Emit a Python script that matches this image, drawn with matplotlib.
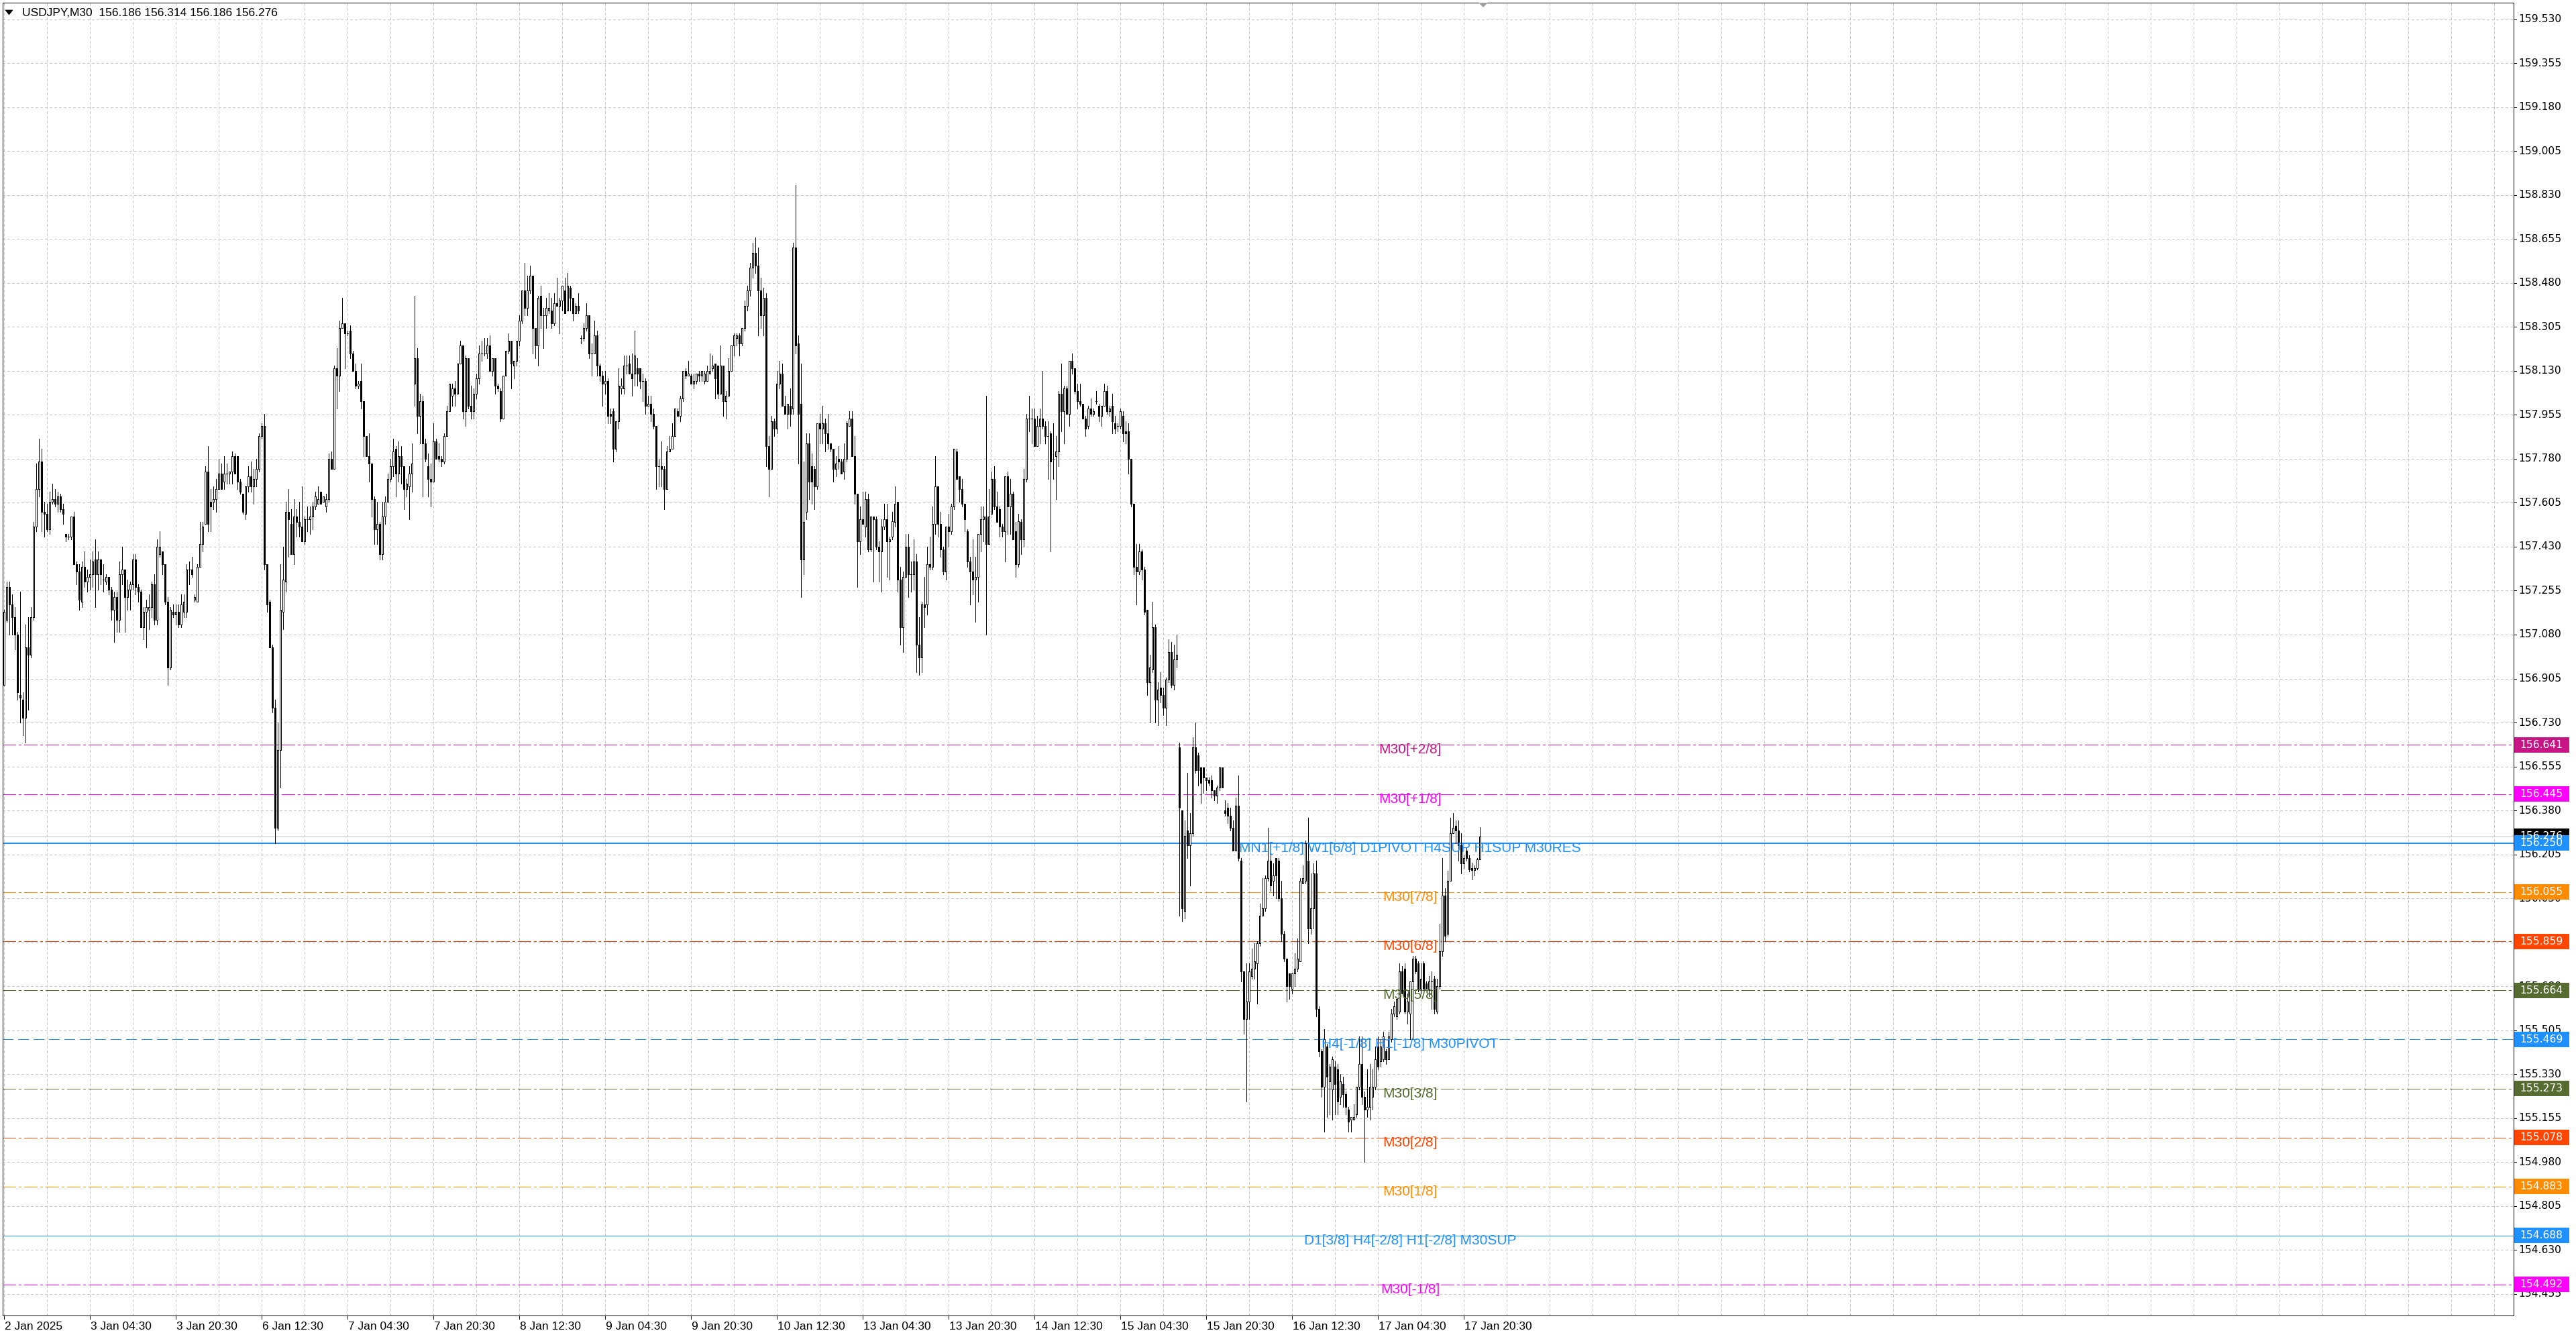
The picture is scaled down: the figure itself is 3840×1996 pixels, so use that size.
import matplotlib
matplotlib.use("Agg")
import matplotlib.pyplot as plt
import numpy as np
from matplotlib.patches import Rectangle, Polygon
from matplotlib import transforms

# ---------------- DATA ----------------
symbol_title = "USDJPY,M30  156.186 156.314 156.186 156.276"

opens = [
156.88,157.14,157.27,157.20,157.15,157.08,156.84,156.82,156.75,157.03,
157.00,157.15,157.51,157.66,157.77,157.57,157.56,157.50,157.61,157.62,
157.60,157.63,157.58,157.48,157.47,157.47,157.55,157.36,157.33,157.21,
157.35,157.29,157.31,157.32,157.38,157.32,157.38,157.30,157.29,157.31,
157.26,157.18,157.23,157.14,157.32,157.34,157.23,157.26,157.28,157.38,
157.27,157.25,157.11,157.17,157.18,157.19,157.28,157.14,157.40,157.41,
157.36,157.21,156.95,157.17,157.16,157.17,157.12,157.17,157.17,157.34,
157.34,157.22,157.21,157.35,157.44,157.52,157.73,157.61,157.61,157.62,
157.66,157.72,157.69,157.72,157.72,157.73,157.79,157.79,157.69,157.64,
157.56,157.67,157.71,157.67,157.70,157.74,157.87,157.91,157.36,157.21,
157.03,156.79,156.31,156.62,157.17,157.29,157.57,157.52,157.40,157.55,
157.53,157.51,157.45,157.54,157.54,157.55,157.59,157.60,157.65,157.61,
157.59,157.62,157.78,157.74,158.14,158.11,158.30,158.32,158.28,158.29,
158.20,158.13,158.07,158.09,158.01,157.87,157.79,157.76,157.62,157.50,
157.52,157.40,157.55,157.61,157.70,157.75,157.82,157.72,157.79,157.75,
157.66,157.67,157.72,158.08,158.18,157.95,158.01,157.84,157.75,157.70,
157.69,157.85,157.79,157.78,157.77,157.87,157.97,158.03,158.06,158.04,
158.16,158.23,157.97,158.18,157.99,157.97,158.04,158.10,158.20,158.20,
158.20,158.23,158.13,158.18,158.07,158.05,157.94,158.11,158.21,158.25,
158.15,158.17,158.25,158.33,158.45,158.38,158.45,158.51,158.30,158.23,
158.43,158.35,158.35,158.37,158.37,158.32,158.40,158.39,158.41,158.45,
158.37,158.46,158.42,158.36,158.39,158.26,158.26,158.30,158.35,158.20,
158.20,158.27,158.15,158.11,158.08,158.09,157.96,157.97,157.82,157.93,
158.06,158.06,158.15,158.16,158.12,158.12,158.14,158.14,158.09,158.09,
157.99,158.00,157.96,157.91,157.75,157.75,157.74,157.66,157.81,157.82,
157.87,157.97,157.95,158.02,158.13,158.11,158.11,158.08,158.09,158.12,
158.11,158.09,158.09,158.12,158.14,158.16,158.15,158.04,158.15,158.01,
158.03,158.13,158.23,158.26,158.27,158.24,158.30,158.39,158.45,158.54,
158.60,158.55,158.45,158.35,158.42,157.83,157.74,157.93,157.90,158.08,
158.12,157.99,157.96,157.99,157.98,158.62,158.24,158.00,157.38,157.57,
157.84,157.75,157.74,157.67,157.92,157.90,157.92,157.88,157.84,157.82,
157.74,157.78,157.77,157.73,157.78,157.91,157.94,157.79,157.64,157.45,
157.54,157.51,157.62,157.42,157.55,157.54,157.43,157.41,157.51,157.54,
157.45,157.47,157.53,157.61,157.30,157.11,157.31,157.43,157.32,157.32,
157.37,157.04,156.99,157.20,157.20,157.36,157.35,157.52,157.67,157.52,
157.42,157.33,157.51,157.49,157.59,157.81,157.71,157.66,157.60,157.49,
157.37,157.33,157.30,157.31,157.48,157.54,157.55,157.44,157.56,157.70,
157.59,157.58,157.51,157.49,157.71,157.59,157.64,157.49,157.36,157.53,
157.46,157.70,157.94,157.94,157.94,157.83,157.91,157.94,157.91,157.87,
157.88,157.78,157.79,157.81,158.04,157.97,158.06,157.96,158.17,158.14,
158.05,158.01,158.00,157.94,157.91,157.98,157.96,158.01,157.99,157.95,
157.99,158.05,157.97,157.99,157.92,157.91,157.91,157.95,157.89,157.89,
157.78,157.60,157.35,157.33,157.41,157.34,157.18,156.89,156.94,157.11,
156.82,156.87,156.84,156.79,156.90,157.01,156.88,156.98,156.63,156.38,
155.98,156.30,156.24,156.29,156.63,156.60,156.55,156.55,156.51,156.50,
156.50,156.46,156.44,156.47,156.55,156.38,156.39,156.36,156.31,156.22,
156.40,156.18,155.74,155.55,155.62,155.72,155.75,155.77,155.85,155.96,
155.99,156.11,156.18,156.10,156.19,156.18,156.03,155.89,155.79,155.73,
155.67,155.73,155.75,155.78,156.09,156.10,156.18,155.91,155.99,156.13,
155.59,155.42,155.28,155.44,155.30,155.27,155.36,155.35,155.24,155.29,
155.25,155.19,155.15,155.15,155.17,155.28,155.37,155.24,155.19,155.20,
155.24,155.28,155.44,155.38,155.39,155.42,155.39,155.47,155.57,155.56,
155.58,155.74,155.75,155.58,155.57,155.70,155.79,155.77,155.67,155.77,
155.69,155.67,155.70,155.71,155.58,155.68,155.82,156.04,155.89,156.10,
156.29,156.32,156.30,156.24,156.17,156.22,156.19,156.151,156.142,156.151,
156.186]

highs = [
157.18,157.29,157.29,157.24,157.19,157.09,157.25,156.85,157.12,157.15,
157.19,157.53,157.76,157.86,157.82,157.61,157.60,157.65,157.68,157.66,
157.65,157.64,157.60,157.48,157.48,157.55,157.57,157.37,157.36,157.37,
157.41,157.34,157.38,157.41,157.46,157.41,157.38,157.36,157.32,157.31,
157.27,157.25,157.25,157.37,157.43,157.34,157.30,157.29,157.40,157.40,
157.28,157.26,157.19,157.22,157.24,157.29,157.32,157.46,157.49,157.41,
157.36,157.23,157.19,157.20,157.20,157.20,157.24,157.24,157.36,157.37,
157.39,157.24,157.36,157.53,157.53,157.75,157.83,157.66,157.67,157.70,
157.78,157.76,157.79,157.76,157.73,157.81,157.80,157.79,157.70,157.64,
157.67,157.75,157.77,157.74,157.78,157.88,157.92,157.96,157.36,157.22,
157.04,156.82,156.73,157.36,157.43,157.61,157.66,157.58,157.62,157.58,
157.61,157.67,157.55,157.59,157.59,157.61,157.65,157.67,157.65,157.63,
157.64,157.80,157.81,158.15,158.22,158.33,158.42,158.32,158.29,158.31,
158.21,158.16,158.09,158.16,158.01,157.87,157.88,157.76,157.63,157.61,
157.53,157.61,157.63,157.72,157.78,157.86,157.83,157.85,157.83,157.75,
157.70,157.75,157.84,158.43,158.22,158.04,158.03,157.86,157.80,157.76,
157.92,157.86,157.84,157.79,157.88,157.99,158.08,158.08,158.09,158.16,
158.25,158.23,158.19,158.18,158.07,158.06,158.12,158.23,158.25,158.26,
158.26,158.27,158.18,158.18,158.08,158.06,158.11,158.21,158.28,158.25,
158.17,158.25,158.35,158.45,158.56,158.51,158.55,158.51,158.30,158.43,
158.47,158.38,158.42,158.44,158.42,158.44,158.50,158.42,158.47,158.50,
158.52,158.47,158.42,158.40,158.44,158.27,158.32,158.40,158.35,158.24,
158.33,158.29,158.16,158.13,158.13,158.10,157.98,157.98,157.93,158.14,
158.10,158.19,158.19,158.19,158.20,158.29,158.18,158.14,158.12,158.10,
158.03,158.03,157.98,157.91,157.78,157.85,157.75,157.83,157.87,157.92,
157.98,157.98,158.03,158.13,158.14,158.17,158.12,158.12,158.12,158.13,
158.13,158.13,158.15,158.20,158.19,158.16,158.15,158.23,158.15,158.05,
158.18,158.23,158.28,158.28,158.28,158.30,158.41,158.47,158.56,158.64,
158.66,158.62,158.50,158.46,158.44,157.87,157.95,157.94,158.13,158.17,
158.16,158.03,158.00,158.06,158.64,158.87,158.27,158.16,157.77,157.88,
157.88,157.80,157.75,157.92,157.96,157.99,157.94,157.96,157.84,157.82,
157.79,157.83,157.78,157.84,157.93,157.97,157.97,157.87,157.64,157.59,
157.65,157.65,157.64,157.55,157.55,157.55,157.45,157.54,157.60,157.60,
157.47,157.57,157.67,157.61,157.35,157.33,157.48,157.48,157.37,157.46,
157.40,157.15,157.21,157.31,157.43,157.47,157.59,157.79,157.67,157.57,
157.43,157.51,157.56,157.60,157.82,157.82,157.71,157.70,157.60,157.50,
157.39,157.46,157.39,157.48,157.59,157.59,158.03,157.66,157.73,157.75,
157.65,157.59,157.52,157.71,157.73,157.70,157.65,157.53,157.56,157.54,
157.74,157.96,158.03,157.98,157.98,157.95,157.98,158.13,157.93,157.93,
157.89,157.92,157.87,158.05,158.16,158.07,158.07,158.17,158.20,158.14,
158.08,158.08,158.00,157.95,157.99,158.02,157.98,158.05,158.00,157.99,
158.08,158.07,157.99,158.04,157.95,157.92,157.98,157.97,157.93,157.92,
157.78,157.60,157.44,157.44,157.42,157.35,157.18,157.00,157.21,157.12,
156.89,156.93,156.87,156.91,157.06,157.05,157.04,157.08,156.65,156.38,
156.34,156.53,156.37,156.67,156.73,156.61,156.55,156.55,156.51,156.51,
156.52,156.46,156.48,156.55,156.55,156.42,156.41,156.39,156.34,156.43,
156.52,156.19,155.74,155.77,155.77,155.83,155.85,155.86,156.01,156.11,
156.12,156.31,156.21,156.17,156.19,156.19,156.10,155.90,155.79,155.73,
155.73,155.81,155.87,156.11,156.16,156.26,156.35,156.13,156.17,156.18,
155.60,155.43,155.51,155.45,155.37,155.40,155.38,155.37,155.33,155.32,
155.26,155.20,155.16,155.21,155.28,155.48,155.48,155.26,155.35,155.37,
155.35,155.44,155.48,155.47,155.50,155.43,155.50,155.59,155.62,155.63,
155.77,155.76,155.77,155.65,155.70,155.80,155.80,155.78,155.77,155.78,
155.70,155.72,155.74,155.72,155.71,155.93,156.19,156.07,156.14,156.35,
156.37,156.34,156.34,156.29,156.20,156.23,156.20,156.173,156.16,156.19,
156.314]

lows = [
156.88,157.13,157.08,157.08,157.02,156.82,156.73,156.68,156.65,156.78,
156.99,157.14,157.49,157.63,157.49,157.47,157.49,157.48,157.60,157.59,
157.57,157.57,157.52,157.45,157.46,157.46,157.36,157.28,157.18,157.19,
157.27,157.25,157.26,157.27,157.19,157.26,157.28,157.25,157.28,157.24,
157.14,157.05,157.09,157.09,157.28,157.09,157.18,157.18,157.26,157.24,
157.21,157.11,157.06,157.03,157.10,157.15,157.12,157.12,157.39,157.32,
157.20,156.88,156.94,157.15,157.12,157.11,157.11,157.15,157.15,157.28,
157.31,157.21,157.21,157.35,157.41,157.52,157.49,157.49,157.58,157.57,
157.66,157.66,157.66,157.68,157.68,157.68,157.72,157.66,157.64,157.56,
157.54,157.65,157.65,157.60,157.67,157.73,157.86,157.34,157.17,157.03,
156.77,156.25,156.30,156.47,157.10,157.25,157.39,157.40,157.36,157.47,
157.47,157.47,157.44,157.49,157.48,157.50,157.58,157.60,157.60,157.61,
157.57,157.61,157.74,157.74,157.98,158.05,158.30,158.14,158.27,158.18,
158.13,158.06,158.06,157.98,157.79,157.79,157.69,157.55,157.44,157.44,
157.38,157.38,157.52,157.61,157.69,157.71,157.63,157.69,157.68,157.58,
157.63,157.54,157.65,157.99,157.88,157.84,157.63,157.77,157.63,157.59,
157.69,157.78,157.77,157.75,157.76,157.87,157.97,157.99,157.99,158.04,
158.16,157.94,157.91,157.98,157.94,157.94,158.02,158.08,158.17,158.19,
158.18,158.13,158.11,158.04,158.05,157.93,157.94,158.11,158.20,158.06,
158.10,158.15,158.23,158.32,158.35,158.35,158.44,158.20,158.18,158.15,
158.30,158.22,158.30,158.36,158.30,158.31,158.39,158.28,158.37,158.36,
158.37,158.37,158.33,158.36,158.36,158.24,158.25,158.29,158.18,158.11,
158.20,158.11,158.09,157.99,158.04,157.92,157.92,157.77,157.81,157.90,
158.04,158.04,158.12,158.12,158.03,158.07,158.07,158.06,158.01,157.96,
157.99,157.93,157.90,157.66,157.67,157.67,157.58,157.66,157.81,157.82,
157.87,157.95,157.93,158.01,158.10,158.11,158.08,158.06,158.08,158.09,
158.09,158.08,158.09,158.12,158.13,158.02,158.02,158.04,157.95,157.94,
158.03,158.13,158.19,158.23,158.19,158.23,158.29,158.37,158.43,158.50,
158.52,158.27,158.30,158.27,157.75,157.63,157.74,157.87,157.88,158.06,
157.99,157.96,157.90,157.91,157.96,158.20,157.76,157.23,157.32,157.54,
157.62,157.60,157.58,157.66,157.84,157.84,157.81,157.82,157.81,157.69,
157.71,157.74,157.72,157.70,157.77,157.91,157.79,157.60,157.27,157.40,
157.52,157.47,157.41,157.41,157.29,157.42,157.29,157.25,157.50,157.31,
157.30,157.46,157.51,157.25,157.04,157.01,157.31,157.23,157.25,157.26,
156.93,156.92,156.93,157.11,157.16,157.34,157.34,157.48,157.47,157.39,
157.32,157.30,157.43,157.48,157.58,157.70,157.61,157.59,157.49,157.35,
157.20,157.24,157.13,157.21,157.41,157.45,157.08,157.44,157.56,157.58,
157.53,157.47,157.47,157.37,157.48,157.48,157.46,157.31,157.35,157.40,
157.43,157.69,157.89,157.84,157.83,157.83,157.84,157.90,157.84,157.70,
157.41,157.70,157.62,157.75,157.89,157.84,157.96,157.91,158.12,158.04,
157.98,157.99,157.94,157.87,157.90,157.95,157.95,158.00,157.93,157.91,
157.99,157.96,157.95,157.88,157.88,157.89,157.90,157.85,157.84,157.72,
157.59,157.32,157.20,157.32,157.30,157.16,156.84,156.73,156.93,156.73,
156.72,156.81,156.76,156.72,156.89,156.87,156.86,156.95,155.96,155.94,
155.95,156.19,156.08,156.28,156.53,156.48,156.41,156.45,156.46,156.48,
156.43,156.42,156.41,156.46,156.47,156.36,156.33,156.30,156.22,156.22,
156.18,155.70,155.49,155.22,155.55,155.71,155.71,155.61,155.84,155.96,
155.98,156.10,156.06,156.04,156.03,156.02,155.86,155.78,155.62,155.63,
155.65,155.68,155.74,155.78,156.09,156.09,155.85,155.89,155.91,155.56,
155.40,155.24,155.10,155.16,155.17,155.15,155.17,155.17,155.21,155.20,
155.17,155.10,155.10,155.15,155.16,155.27,155.21,154.98,155.16,155.15,
155.19,155.27,155.35,155.36,155.38,155.37,155.39,155.46,155.56,155.55,
155.57,155.65,155.57,155.53,155.47,155.47,155.73,155.66,155.65,155.67,
155.67,155.64,155.59,155.57,155.57,155.67,155.80,155.86,155.88,156.10,
156.29,156.25,156.18,156.13,156.15,156.18,156.137,156.106,156.12,156.146,
156.186]

closes = [
157.17,157.27,157.20,157.15,157.08,156.85,156.83,156.75,157.03,157.00,
157.15,157.51,157.66,157.77,157.57,157.56,157.50,157.61,157.62,157.60,
157.63,157.58,157.56,157.47,157.47,157.55,157.36,157.33,157.22,157.35,
157.29,157.31,157.32,157.37,157.32,157.38,157.32,157.30,157.31,157.26,
157.18,157.23,157.14,157.32,157.34,157.23,157.26,157.28,157.38,157.27,
157.25,157.11,157.17,157.19,157.19,157.28,157.14,157.43,157.43,157.36,
157.21,156.95,157.18,157.16,157.17,157.12,157.20,157.21,157.34,157.34,
157.32,157.23,157.35,157.44,157.51,157.73,157.52,157.59,157.62,157.66,
157.72,157.66,157.72,157.72,157.73,157.79,157.72,157.69,157.65,157.57,
157.67,157.71,157.67,157.70,157.74,157.87,157.91,157.36,157.20,157.03,
156.79,156.31,156.62,157.18,157.30,157.57,157.54,157.40,157.55,157.53,
157.51,157.45,157.54,157.54,157.55,157.59,157.63,157.62,157.60,157.63,
157.62,157.78,157.74,158.14,158.11,158.30,158.32,158.28,158.28,158.20,
158.13,158.07,158.08,158.01,157.87,157.79,157.76,157.62,157.50,157.52,
157.40,157.55,157.61,157.70,157.75,157.81,157.72,157.79,157.75,157.66,
157.68,157.72,157.76,158.18,157.95,158.01,157.84,157.78,157.70,157.69,
157.85,157.78,157.78,157.77,157.87,157.97,158.08,158.06,158.04,158.16,
158.23,157.97,158.18,157.99,157.97,158.04,158.10,158.20,158.20,158.20,
158.23,158.13,158.18,158.07,158.06,157.94,158.11,158.21,158.25,158.16,
158.17,158.25,158.33,158.45,158.38,158.45,158.51,158.30,158.23,158.42,
158.35,158.35,158.38,158.38,158.32,158.40,158.39,158.41,158.47,158.36,
158.47,158.42,158.36,158.39,158.37,158.26,158.30,158.35,158.20,158.20,
158.27,158.15,158.11,158.08,158.09,157.95,157.95,157.82,157.93,158.07,
158.07,158.15,158.15,158.12,158.10,158.19,158.12,158.09,158.09,157.99,
158.00,157.96,157.91,157.75,157.75,157.74,157.66,157.81,157.82,157.87,
157.98,157.95,158.02,158.13,158.11,158.12,158.08,158.09,158.12,158.11,
158.13,158.12,158.13,158.13,158.15,158.10,158.04,158.15,158.01,158.03,
158.13,158.23,158.27,158.27,158.24,158.30,158.39,158.45,158.54,158.60,
158.55,158.45,158.35,158.42,157.83,157.74,157.93,157.90,158.08,158.12,
157.99,157.96,158.00,157.96,158.62,158.23,157.96,157.38,157.53,157.84,
157.69,157.69,157.67,157.92,157.90,157.92,157.88,157.84,157.82,157.74,
157.76,157.77,157.72,157.78,157.92,157.94,157.79,157.64,157.45,157.54,
157.52,157.62,157.42,157.55,157.54,157.43,157.41,157.51,157.54,157.45,
157.46,157.53,157.60,157.30,157.11,157.31,157.43,157.32,157.32,157.37,
157.04,156.99,157.20,157.19,157.36,157.35,157.52,157.67,157.52,157.42,
157.33,157.51,157.49,157.59,157.82,157.70,157.66,157.60,157.54,157.37,
157.33,157.30,157.31,157.48,157.54,157.55,157.44,157.55,157.70,157.59,
157.53,157.51,157.49,157.71,157.59,157.64,157.46,157.36,157.53,157.46,
157.70,157.94,157.94,157.94,157.83,157.91,157.94,157.91,157.87,157.87,
157.77,157.78,157.81,158.04,157.97,158.06,157.96,158.17,158.14,158.05,
158.01,158.00,157.94,157.90,157.98,157.96,157.97,158.01,157.95,157.99,
158.05,157.97,157.98,157.93,157.90,157.91,157.97,157.88,157.88,157.78,
157.60,157.35,157.33,157.41,157.34,157.17,156.89,156.95,157.11,156.82,
156.86,156.84,156.79,156.90,157.01,156.88,156.98,157.00,156.39,155.99,
156.28,156.24,156.29,156.63,156.54,156.54,156.49,156.51,156.50,156.49,
156.46,156.44,156.47,156.55,156.47,156.37,156.36,156.31,156.22,156.40,
156.19,155.74,155.55,155.62,155.74,155.75,155.78,155.85,155.96,155.99,
156.11,156.18,156.08,156.12,156.12,156.03,155.89,155.79,155.68,155.68,
155.73,155.75,155.79,156.10,156.11,156.25,155.91,155.99,156.13,155.59,
155.42,155.28,155.47,155.32,155.36,155.39,155.29,155.22,155.30,155.25,
155.20,155.14,155.16,155.16,155.28,155.37,155.24,155.19,155.20,155.28,
155.28,155.39,155.36,155.44,155.48,155.39,155.48,155.57,155.60,155.63,
155.74,155.65,155.58,155.62,155.70,155.79,155.74,155.67,155.71,155.67,
155.67,155.70,155.70,155.59,155.68,155.82,156.04,155.88,156.10,156.29,
156.31,156.30,156.24,156.17,156.19,156.19,156.146,156.142,156.151,156.184,
156.276]

x_tick_labels = ["2 Jan 2025", "3 Jan 04:30", "3 Jan 20:30", "6 Jan 12:30",
                 "7 Jan 04:30", "7 Jan 20:30", "8 Jan 12:30", "9 Jan 04:30",
                 "9 Jan 20:30", "10 Jan 12:30", "13 Jan 04:30", "13 Jan 20:30",
                 "14 Jan 12:30", "15 Jan 04:30", "15 Jan 20:30", "16 Jan 12:30",
                 "17 Jan 04:30", "17 Jan 20:30"]
bars_per_label = 32

y_tick_labels = ["159.530", "159.355", "159.180", "159.005", "158.830", "158.655",
                 "158.480", "158.305", "158.130", "157.955", "157.780", "157.605",
                 "157.430", "157.255", "157.080", "156.905", "156.730", "156.555",
                 "156.380", "156.205", "156.030", "155.855", "155.680", "155.505",
                 "155.330", "155.155", "154.980", "154.805", "154.630", "154.455"]

level_prices = [156.641, 156.445, 156.250, 156.055, 155.859, 155.664,
                155.469, 155.273, 155.078, 154.883, 154.688, 154.492]
level_texts = ["M30[+2/8]", "M30[+1/8]",
               "MN1[+1/8] W1[6/8] D1PIVOT H4SUP H1SUP M30RES",
               "M30[7/8]", "M30[6/8]", "M30[5/8]",
               "H4[-1/8] H1[-1/8] M30PIVOT",
               "M30[3/8]", "M30[2/8]", "M30[1/8]",
               "D1[3/8] H4[-2/8] H1[-2/8] M30SUP", "M30[-1/8]"]
level_colors = ["#C71585", "#FF00FF", "#1E90FF", "#FF8C00", "#FF4500", "#556B2F",
                "#1E90FF", "#556B2F", "#FF4500", "#FF8C00", "#1E90FF", "#FF00FF"]
level_styles = ["dashdot", "dashdot", "solid2", "dashdot", "dashdot", "dashdot",
                "dashed", "dashdot", "dashdot", "dashdot", "solid", "dashdot"]
current_price = 156.276

# ---------------- FIGURE ----------------
W, H = 3840, 1996
DPI = 100
PX = 72.0 / DPI
fig = plt.figure(figsize=(W / DPI, H / DPI), dpi=DPI)
fig.patch.set_facecolor("white")

ax_l, ax_r, ax_t, ax_b = 4, 3747, 4, 1961
ax = fig.add_axes([ax_l / W, 1 - ax_b / H, (ax_r - ax_l) / W, (ax_b - ax_t) / H])
ax.set_facecolor("white")
bar_px = 4.0
xmin = -0.5
xmax = xmin + (ax_r - ax_l) / bar_px
px_per_price = 374.4
ytop = 159.530 + (28.7 - ax_t) / px_per_price
ybot = ytop - (ax_b - ax_t) / px_per_price
ax.set_xlim(xmin, xmax)
ax.set_ylim(ybot, ytop)
ax.set_xticks([])
ax.set_yticks([])
for s in ax.spines.values():
    s.set_color("black")
    s.set_linewidth(PX)

# grid
y_vals = [float(t) for t in y_tick_labels]
grid_kw = dict(color="#C8C8C8", lw=PX, linestyle=(0, (3, 3)), zorder=1, antialiased=False)
ax.hlines(y_vals, xmin, xmax, **grid_kw)
vgrid = np.arange(0, xmax, 16)
ax.vlines(vgrid, ybot, ytop, **grid_kw)

# level lines
for p, c, st in zip(level_prices, level_colors, level_styles):
    if st == "dashdot":
        ax.axhline(p, color=c, lw=PX, linestyle=(0, (20, 5, 3, 5)), zorder=2, antialiased=False)
    elif st == "dashed":
        ax.axhline(p, color=c, lw=PX, linestyle=(0, (16, 7)), zorder=2, antialiased=False)
    elif st == "solid2":
        ax.axhline(p, color=c, lw=2 * PX, zorder=2, antialiased=False)
    else:
        ax.axhline(p, color=c, lw=PX, zorder=2, antialiased=False)
ax.axhline(current_price, color="#C0C0C0", lw=PX, zorder=1.5, antialiased=False)

# candles
n = min(len(opens), len(highs), len(lows), len(closes))
O = np.array(opens[:n]); Hh = np.array(highs[:n]); L = np.array(lows[:n]); C = np.array(closes[:n])
x = np.arange(n)
lo = np.minimum(L, np.minimum(O, C))
hi = np.maximum(Hh, np.maximum(O, C))
ax.vlines(x, lo, hi, colors="black", lw=PX, zorder=3, antialiased=False)
up = C >= O
blo = np.minimum(O, C)
bh = np.abs(C - O)
ax.bar(x[up], bh[up], bottom=blo[up], width=0.5, facecolor="white",
       edgecolor="black", linewidth=PX, zorder=4, antialiased=False)
ax.bar(x[~up], bh[~up], bottom=blo[~up], width=0.5, facecolor="black",
       edgecolor="black", linewidth=PX, zorder=4, antialiased=False)

# level text labels
label_x = (2102 - ax_l) / bar_px + xmin
for p, t, c in zip(level_prices, level_texts, level_colors):
    ax.annotate(t, xy=(label_x, p), xytext=(0, -5.4), textcoords="offset points",
                ha="center", va="center", color=c, fontsize=15,
                family="Liberation Sans", zorder=6)

# right price axis
tr = transforms.blended_transform_factory(fig.transFigure, ax.transData)
for v, s in zip(y_vals, y_tick_labels):
    ax.add_line(plt.Line2D([ax_r / W, (ax_r + 4) / W], [v, v], transform=tr,
                           color="black", lw=PX, clip_on=False))
    fig.text(3754 / W, v, s, transform=tr, ha="left", va="center",
             fontsize=11.2, family="DejaVu Sans", color="black")

box_prices = [current_price] + level_prices
box_colors = ["black"] + level_colors
box_h = 23 / px_per_price
for p, c in zip(box_prices, box_colors):
    rect = Rectangle((3748 / W, p - box_h / 2), 82 / W, box_h, transform=tr,
                     facecolor=c, edgecolor="none", clip_on=False, zorder=10)
    fig.add_artist(rect)
    fig.text(3756 / W, p, "%.3f" % p, transform=tr, ha="left", va="center",
             fontsize=11.2, family="DejaVu Sans", color="white", zorder=11)

# bottom time axis
for i, lab in enumerate(x_tick_labels):
    b = i * bars_per_label
    px = ax_l + (b - xmin) * bar_px
    fig.add_artist(plt.Line2D([px / W, px / W], [1 - ax_b / H, 1 - (ax_b + 5) / H],
                              transform=fig.transFigure, color="black", lw=PX))
    fig.text((px + 1) / W, 1 - 1977 / H, lab, ha="left", va="center",
             fontsize=12.5, family="Liberation Sans", color="black")

# title
fig.add_artist(Polygon([[8 / W, 1 - 15 / H], [19 / W, 1 - 15 / H], [13.5 / W, 1 - 22 / H]],
                       closed=True, transform=fig.transFigure, facecolor="black",
                       edgecolor="black", lw=0.5))
fig.text(33 / W, 1 - 19 / H, symbol_title, ha="left", va="center",
         fontsize=12.5, family="Liberation Sans", color="black")

# shift marker at top
fig.add_artist(Polygon([[2204 / W, 1 - 4 / H], [2218 / W, 1 - 4 / H], [2211 / W, 1 - 11 / H]],
                       closed=True, transform=fig.transFigure, facecolor="#A0A0A0",
                       edgecolor="none"))

fig.savefig("out.png", dpi=DPI, facecolor="white")
